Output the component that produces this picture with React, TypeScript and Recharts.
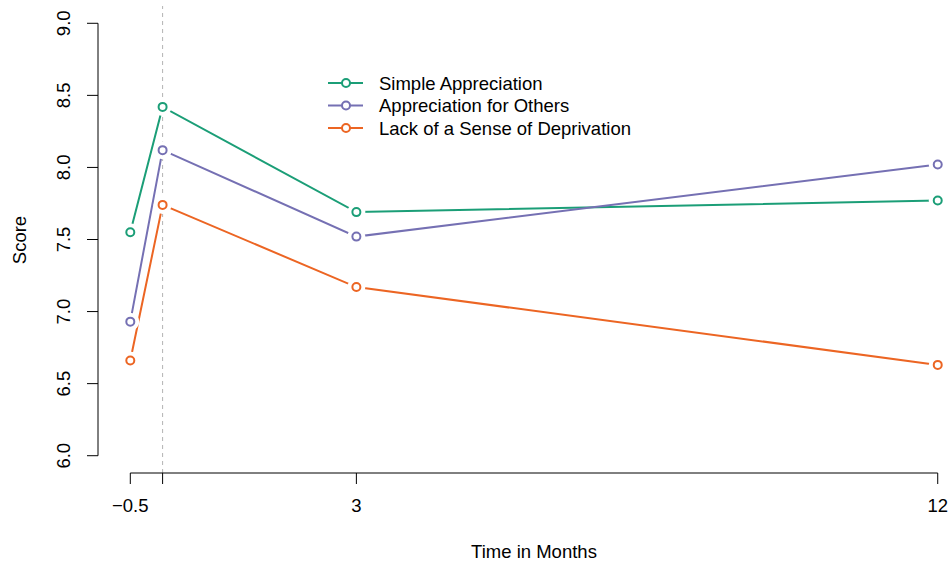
import { LineChart, Line, XAxis, YAxis, ReferenceLine, Legend } from 'recharts';

const months = [-0.5, 0, 3, 12];
const xTickLabels = ['\u22120.5', '', '3', '12'];
const yTicks = [6, 6.5, 7, 7.5, 8, 8.5, 9];

const seriesNames = ['Simple Appreciation', 'Appreciation for Others', 'Lack of a Sense of Deprivation'];
const seriesKeys = ['simple', 'others', 'lack'];
const seriesColors = ['#1B9E77', '#7570B3', '#EC6523'];

const simpleValues = [7.55, 8.42, 7.69, 7.77];
const othersValues = [6.93, 8.12, 7.52, 8.02];
const lackValues = [6.66, 7.74, 7.17, 6.63];

const data = months.map((m, i) => ({
  month: m,
  simple: simpleValues[i],
  others: othersValues[i],
  lack: lackValues[i],
}));

const FONT = '"Liberation Sans", Arial, Helvetica, sans-serif';
const FS = 18.5;

function XTick(props: any) {
  const { x, y, payload } = props;
  const idx = months.indexOf(payload.value);
  return (
    <text x={x} y={y + 28} textAnchor="middle" fontFamily={FONT} fontSize={FS} fill="#000">
      {idx >= 0 ? xTickLabels[idx] : ''}
    </text>
  );
}

function YTick(props: any) {
  const { x, y, payload } = props;
  const tx = x - 17;
  return (
    <text
      x={tx}
      y={y}
      textAnchor="middle"
      transform={`rotate(-90 ${tx} ${y})`}
      fontFamily={FONT}
      fontSize={FS}
      fill="#000"
    >
      {payload.value.toFixed(1)}
    </text>
  );
}

// R type="b" look: white halo leaves a gap between line and point
const makeDot = (color: string) => (props: any) => {
  const { cx, cy, index } = props;
  return (
    <g key={`d-${color}-${index}`}>
      <circle cx={cx} cy={cy} r={9} fill="#fff" />
      <circle cx={cx} cy={cy} r={4} fill="#fff" stroke={color} strokeWidth={2} />
    </g>
  );
};

function LegendBox() {
  return (
    <svg width={330} height={76} style={{ display: 'block' }}>
      {seriesNames.map((name, i) => {
        const cy = 14 + i * 22.5;
        return (
          <g key={name}>
            <line x1={8} x2={43} y1={cy} y2={cy} stroke={seriesColors[i]} strokeWidth={2} />
            <circle cx={26} cy={cy} r={4} fill="#fff" stroke={seriesColors[i]} strokeWidth={2} />
            <text x={59} y={cy + 6.5} fontFamily={FONT} fontSize={FS} fill="#000">
              {name}
            </text>
          </g>
        );
      })}
    </svg>
  );
}

export default function App() {
  return (
    <div style={{ position: 'absolute', left: 0, top: 0, width: 950, height: 562, background: '#fff' }}>
      <LineChart width={950} height={562} data={data} margin={{ top: 6, right: 0, left: 38, bottom: 29 }}>
        <XAxis
          dataKey="month"
          type="number"
          domain={[-1, 12.19]}
          ticks={months}
          allowDataOverflow
          axisLine={false}
          tickLine={{ stroke: '#000', strokeWidth: 1 }}
          tickSize={11}
          tickMargin={0}
          height={60}
          tick={<XTick />}
          label={{
            content: () => (
              <text x={534} y={558} textAnchor="middle" fontFamily={FONT} fontSize={FS} fill="#000">
                Time in Months
              </text>
            ),
          }}
        />
        <YAxis
          type="number"
          domain={[5.88, 9.12]}
          ticks={yTicks}
          allowDataOverflow
          axisLine={false}
          tickLine={{ stroke: '#000', strokeWidth: 1 }}
          tickSize={11}
          tickMargin={0}
          width={60}
          tick={<YTick />}
          label={{
            content: () => (
              <text
                x={26}
                y={240}
                textAnchor="middle"
                transform="rotate(-90 26 240)"
                fontFamily={FONT}
                fontSize={FS}
                fill="#000"
              >
                Score
              </text>
            ),
          }}
        />
        <ReferenceLine x={0} stroke="#b3b3b3" strokeDasharray="4 4" strokeWidth={1} />
        <ReferenceLine
          segment={[{ x: -0.5, y: 5.88 }, { x: 12, y: 5.88 }]}
          stroke="#000"
          strokeWidth={1}
          ifOverflow="visible"
        />
        <ReferenceLine
          segment={[{ x: -1, y: 6 }, { x: -1, y: 9 }]}
          stroke="#000"
          strokeWidth={1}
          ifOverflow="visible"
        />
        <Legend
          layout="horizontal"
          verticalAlign="middle"
          align="center"
          content={<LegendBox />}
          wrapperStyle={{ position: 'absolute', left: 320, top: 69, width: 330, height: 76 }}
        />
        {seriesKeys.map((key, i) => (
          <Line
            key={key}
            dataKey={key}
            name={seriesNames[i]}
            type="linear"
            stroke={seriesColors[i]}
            strokeWidth={2}
            dot={makeDot(seriesColors[i])}
            activeDot={false}
            isAnimationActive={false}
          />
        ))}
      </LineChart>
    </div>
  );
}
